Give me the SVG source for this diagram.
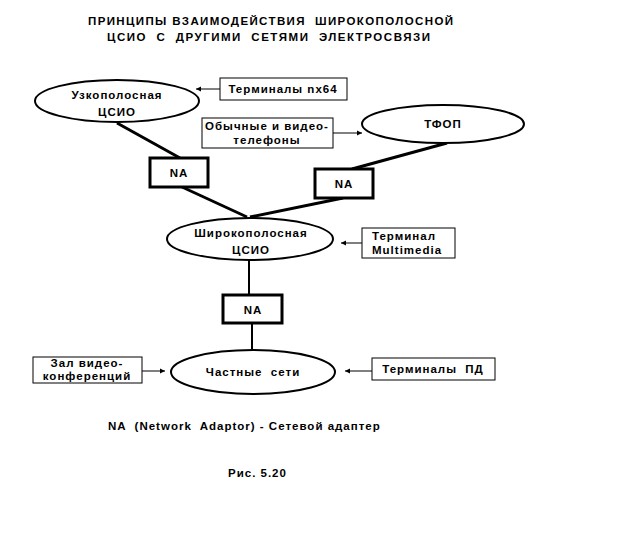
<svg xmlns="http://www.w3.org/2000/svg" width="640" height="540" viewBox="0 0 640 540" xml:space="preserve">
<style>
text{font-family:"Liberation Sans",Arial,sans-serif;font-weight:bold;font-size:11.5px;letter-spacing:1px;fill:#000;white-space:pre}
.c{text-anchor:middle}
.el{fill:#fff;stroke:#000;stroke-width:2}
.na{fill:#fff;stroke:#000;stroke-width:3}
.bx{fill:#fff;stroke:#000;stroke-width:1}
.thick{stroke:#000;stroke-width:3;fill:none}
.v{stroke:#000;stroke-width:2;fill:none}
.arr{stroke:#000;stroke-width:1;fill:none;marker-end:url(#ah)}
</style>
<defs>
<marker id="ah" markerWidth="6" markerHeight="6" refX="5" refY="3" orient="auto" markerUnits="userSpaceOnUse">
<path d="M0,0.5 L5,3 L0,5.5 Z" fill="#000"/>
</marker>
</defs>
<rect width="640" height="540" fill="#fff"/>
<g id="title">
<text class="c" x="271" y="25" textLength="366" lengthAdjust="spacing">ПРИНЦИПЫ ВЗАИМОДЕЙСТВИЯ  ШИРОКОПОЛОСНОЙ</text>
<text class="c" x="269" y="41" textLength="324" lengthAdjust="spacing">ЦСИО  С  ДРУГИМИ  СЕТЯМИ  ЭЛЕКТРОСВЯЗИ</text>
</g>
<g id="connectors">
<line class="thick" x1="117" y1="123" x2="180" y2="158"/>
<line class="thick" x1="182" y1="187" x2="247" y2="217"/>
<line class="thick" x1="447" y1="143" x2="352" y2="169"/>
<line class="thick" x1="343" y1="198" x2="250" y2="217"/>
<line class="v" x1="249" y1="260" x2="249" y2="295"/>
<line class="v" x1="252" y1="323" x2="252" y2="350"/>
<line class="arr" x1="220" y1="89" x2="196" y2="89"/>
<line class="arr" x1="333" y1="133" x2="362" y2="133"/>
<line class="arr" x1="362" y1="243" x2="341" y2="243"/>
<line class="arr" x1="142" y1="371" x2="165" y2="371"/>
<line class="arr" x1="372" y1="371" x2="345" y2="371"/>
</g>
<g id="narrow">
<ellipse class="el" cx="117" cy="101" rx="82" ry="21"/>
<text class="c" x="117" y="99">Узкополосная</text>
<text class="c" x="117" y="116">ЦСИО</text>
</g>
<g id="pstn">
<ellipse class="el" cx="443" cy="124" rx="81" ry="19"/>
<text class="c" x="443" y="128">ТФОП</text>
</g>
<g id="broadband">
<ellipse class="el" cx="250" cy="239" rx="83" ry="21"/>
<text class="c" x="251" y="237">Широкополосная</text>
<text class="c" x="251" y="254">ЦСИО</text>
</g>
<g id="private">
<ellipse class="el" cx="253" cy="372" rx="82" ry="22"/>
<text class="c" x="253" y="376">Частные  сети</text>
</g>
<g id="na1">
<rect class="na" x="150" y="158" width="58" height="29"/>
<text class="c" x="179" y="177">NA</text>
</g>
<g id="na2">
<rect class="na" x="315" y="169" width="58" height="29"/>
<text class="c" x="344" y="188">NA</text>
</g>
<g id="na3">
<rect class="na" x="223" y="295" width="59" height="28"/>
<text class="c" x="253" y="314">NA</text>
</g>
<g id="t-nx64">
<rect class="bx" x="220" y="78" width="127" height="22"/>
<text class="c" x="283" y="93">Терминалы nx64</text>
</g>
<g id="t-phones">
<rect class="bx" x="202" y="118" width="131" height="30"/>
<text class="c" x="267" y="130">Обычные и видео-</text>
<text class="c" x="267" y="144">телефоны</text>
</g>
<g id="t-mm">
<rect class="bx" x="362" y="228" width="93" height="30"/>
<text x="372" y="240">Терминал</text>
<text x="372" y="254">Multimedia</text>
</g>
<g id="t-conf">
<rect class="bx" x="33" y="357" width="109" height="26"/>
<text class="c" x="87" y="367">Зал видео-</text>
<text class="c" x="87" y="380">конференций</text>
</g>
<g id="t-pd">
<rect class="bx" x="372" y="358" width="123" height="22"/>
<text class="c" x="433" y="373">Терминалы  ПД</text>
</g>
<g id="footer">
<text x="108" y="430">NA  (Network  Adaptor) - Сетевой адаптер</text>
<text x="228" y="477">Рис. 5.20</text>
</g>
</svg>
